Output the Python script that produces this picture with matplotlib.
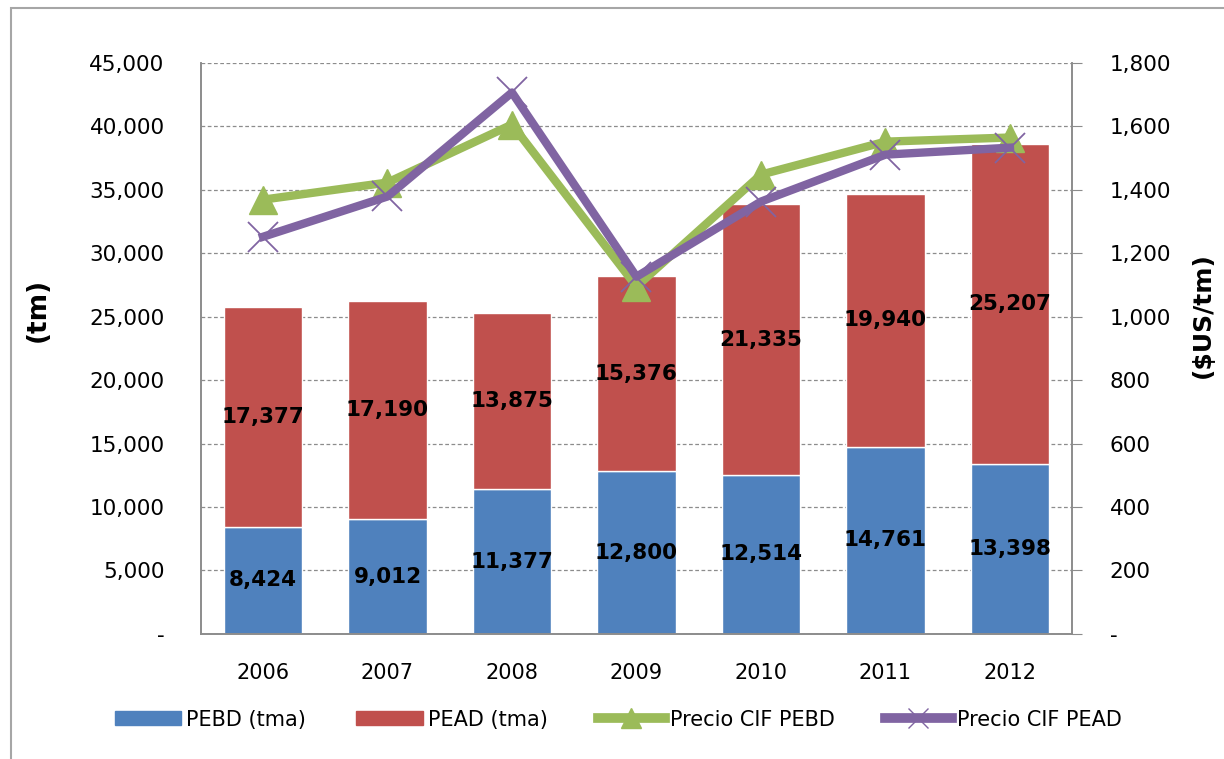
import matplotlib.pyplot as plt
from matplotlib.patches import Rectangle, Patch
from matplotlib.ticker import FuncFormatter
from matplotlib.lines import Line2D
import numpy as np

# ---- data ----
years = ["2006", "2007", "2008", "2009", "2010", "2011", "2012"]
pebd_tm = [8424, 9012, 11377, 12800, 12514, 14761, 13398]
pead_tm = [17377, 17190, 13875, 15376, 21335, 19940, 25207]
precio_pebd = [1369, 1423, 1606, 1095, 1448, 1552, 1565]
precio_pead = [1252, 1379, 1707, 1126, 1363, 1511, 1533]

BLUE = "#4F81BD"
RED = "#C0504D"
GREEN = "#9BBB59"
PURPLE = "#8064A2"
GRID = "#8c8c8c"

fig = plt.figure(figsize=(12.24, 7.59), dpi=100)
ax = fig.add_axes([0.164, 0.165, 0.712, 0.752])
ax2 = ax.twinx()

# outer chart border
fig.patches.append(Rectangle((0.009, -0.05), 1.1, 1.039, transform=fig.transFigure,
                             fill=False, edgecolor="#a6a6a6", linewidth=1.5))

x = np.arange(len(years))
w = 0.63
ax.bar(x, pebd_tm, w, color=BLUE, edgecolor="white", linewidth=1, zorder=2)
ax.bar(x, pead_tm, w, bottom=pebd_tm, color=RED, edgecolor="white", linewidth=1, zorder=2)

# data labels in the middle of each segment
for i in range(len(years)):
    ax.text(x[i], pebd_tm[i] / 2, f"{pebd_tm[i]:,}", ha="center", va="center",
            fontsize=15.5, fontweight="bold", color="black", zorder=3)
    ax.text(x[i], pebd_tm[i] + pead_tm[i] / 2, f"{pead_tm[i]:,}", ha="center", va="center",
            fontsize=15.5, fontweight="bold", color="black", zorder=3)

ax2.plot(x, precio_pebd, color=GREEN, linewidth=6, marker="^", markersize=20,
         solid_joinstyle="miter", zorder=4)
ax2.plot(x, precio_pead, color=PURPLE, linewidth=6, marker="x", markersize=21,
         markeredgewidth=1.3, zorder=5)

def fmt(v, pos):
    return "-" if v == 0 else f"{int(v):,}"

ax.set_xlim(-0.5, len(years) - 0.5)
ax.set_ylim(0, 45000)
ax.set_yticks(range(0, 45001, 5000))
ax.yaxis.set_major_formatter(FuncFormatter(fmt))
ax2.set_ylim(0, 1800)
ax2.set_yticks(range(0, 1801, 200))
ax2.yaxis.set_major_formatter(FuncFormatter(fmt))

ax.set_xticks(x)
ax.set_xticklabels(years, fontsize=15)
ax.tick_params(axis="x", length=0, pad=21)
ax.tick_params(axis="y", length=0, labelsize=15.5, pad=26)
ax2.tick_params(axis="y", length=7, direction="out", color=GRID, labelsize=15.5, pad=20)

ax.grid(axis="y", color=GRID, linestyle=(0, (3, 2)), linewidth=0.9)
ax.set_axisbelow(True)
for a in (ax, ax2):
    a.spines["top"].set_visible(False)
    for s in ("left", "right", "bottom"):
        a.spines[s].set_color(GRID)
        a.spines[s].set_linewidth(1.2)

ax.set_ylabel("(tm)", fontsize=19, fontweight="bold")
ax.yaxis.set_label_coords(-0.172, 0.567)
ax2.set_ylabel("($US/tm)", fontsize=18, fontweight="bold", rotation=90)
ax2.yaxis.set_label_coords(1.136, 0.559)

handles = [Patch(color=BLUE), Patch(color=RED),
           Line2D([], [], color=GREEN, linewidth=7, marker="^", markersize=14),
           Line2D([], [], color=PURPLE, linewidth=7, marker="x", markersize=14)]
labels = ["PEBD (tma)", "PEAD (tma)", "Precio CIF PEBD", "Precio CIF PEAD"]
fig.legend(handles, labels, loc="center", bbox_to_anchor=(0.505, 0.052), ncol=4,
           frameon=False, fontsize=15, handlelength=3.2, handleheight=0.65,
           handletextpad=0.25, columnspacing=2.4)

fig.savefig("out.png", dpi=100)
